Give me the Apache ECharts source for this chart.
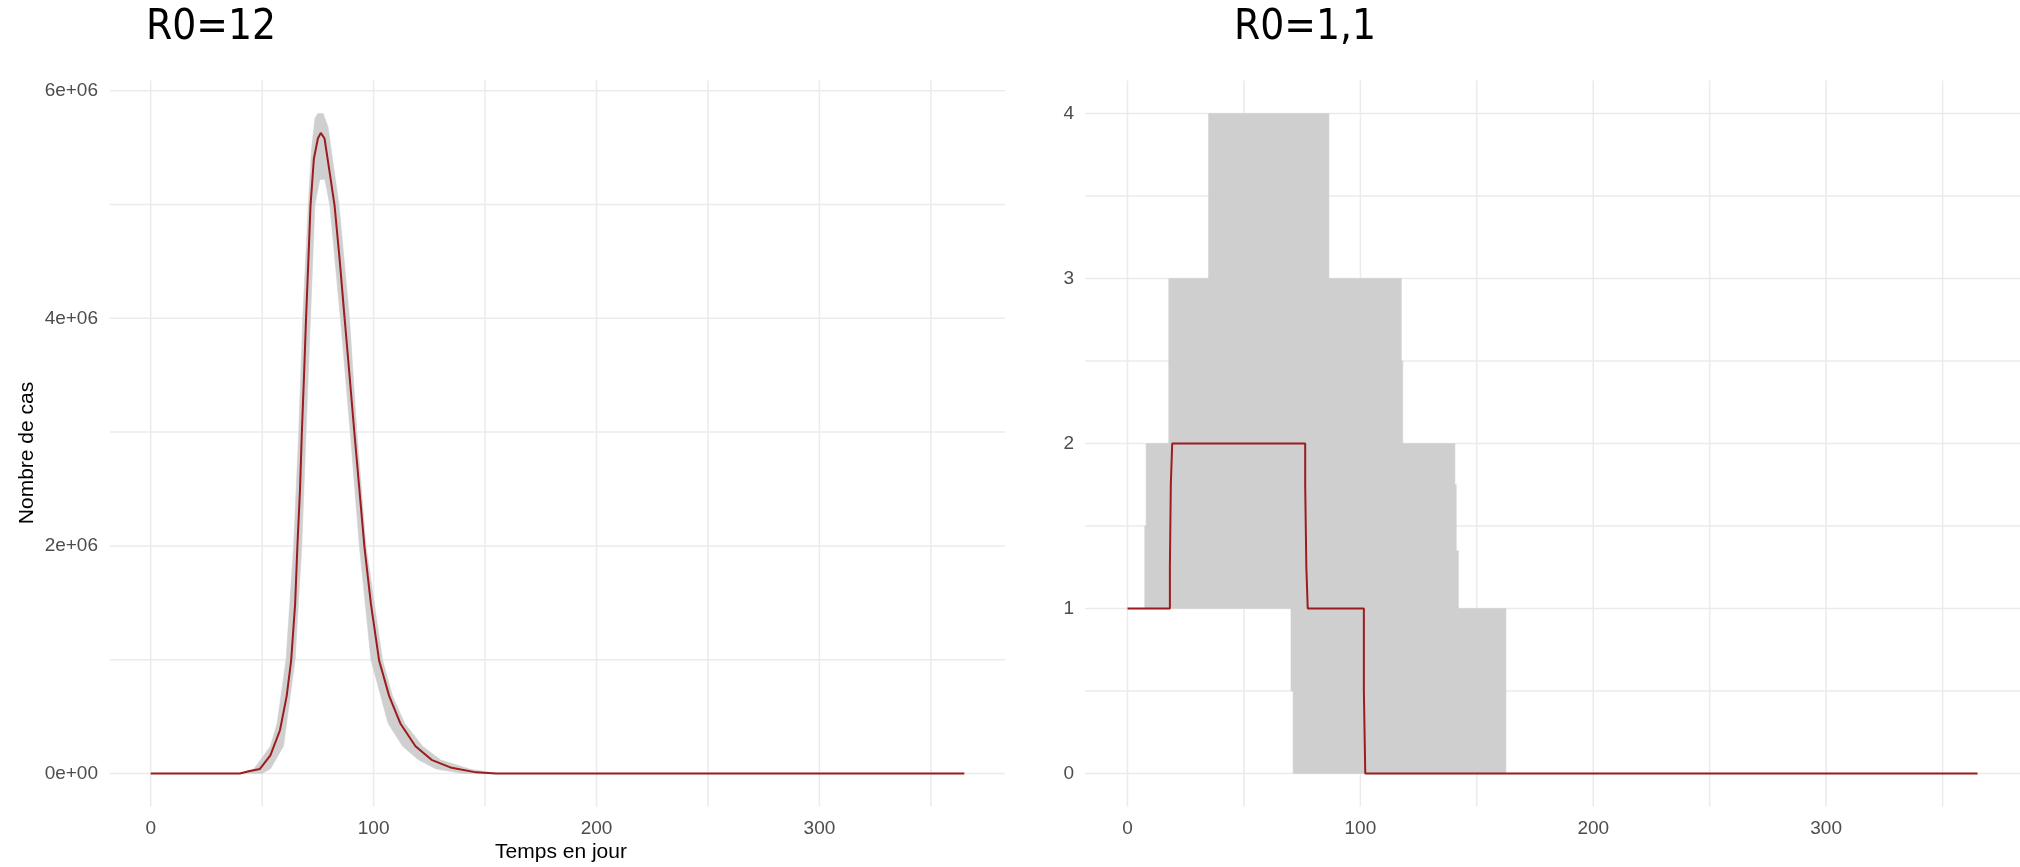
<!DOCTYPE html>
<html>
<head>
<meta charset="utf-8">
<script src="https://cdn.jsdelivr.net/npm/echarts@6/dist/echarts.min.js"></script>
<style>
html,body{margin:0;padding:0;background:#fff;}
#chart{width:2020px;height:867px;}
</style>
</head>
<body>
<div id="chart"></div>
<script>
// ---------- data ----------
const titles = ['R0=12', 'R0=1,1'];
const xTicks = [0, 100, 200, 300];
const xGrid = [0, 50, 100, 150, 200, 250, 300, 350];

const leftYTicks = [0, 2000000, 4000000, 6000000];
const leftYTickLabels = ['0e+00', '2e+06', '4e+06', '6e+06'];
const leftYGrid = [0, 1000000, 2000000, 3000000, 4000000, 5000000, 6000000];

const rightYTicks = [0, 1, 2, 3, 4];
const rightYGrid = [0, 0.5, 1, 1.5, 2, 2.5, 3, 3.5, 4];

// R0 = 12 : median curve
const r12Days   = [0, 40, 44, 49, 53.7, 58, 61, 63, 64.8, 65.8, 67, 67.8, 68.8, 69.7, 70.7, 71.7, 73.2, 75, 76.3, 78, 80.3, 82.5, 84.8, 87, 89.2, 91.4, 93.6, 95.9, 98.8, 102.5, 107, 112, 118.8, 126, 135, 146, 155, 365];
const r12Median = [0, 0, 20000, 40000, 160000, 380000, 680000, 990000, 1490000, 1990000, 2500000, 2990000, 3500000, 4000000, 4490000, 4990000, 5400000, 5580000, 5630000, 5580000, 5280000, 4990000, 4510000, 4000000, 3500000, 2990000, 2500000, 1990000, 1490000, 990000, 680000, 440000, 240000, 120000, 50000, 10000, 0, 0];
// R0 = 12 : envelope, upper edge
const r12UpperDays = [40, 46.3, 53.7, 56.7, 60.7, 64.1, 66.4, 68.2, 70.7, 72.2, 73.7, 75, 77.4, 79.6, 81, 84.5, 89.2, 92.5, 96.6, 104, 108.5, 114, 122, 130, 143, 155];
const r12Upper     = [0, 40000, 240000, 440000, 1000000, 2000000, 3000000, 4000000, 5000000, 5500000, 5760000, 5800000, 5800000, 5680000, 5480000, 5000000, 4000000, 3000000, 2000000, 1000000, 680000, 440000, 240000, 120000, 40000, 0];
// R0 = 12 : envelope, lower edge
const r12LowerDays = [40, 50, 53.7, 59.6, 64.8, 67.8, 69.7, 71.7, 73.7, 75.9, 78.1, 80.3, 85.1, 89.5, 93.6, 98.8, 106.5, 113, 120, 128, 140, 155];
const r12Lower     = [0, 0, 40000, 240000, 1000000, 2000000, 3000000, 4000000, 5000000, 5220000, 5220000, 5000000, 4000000, 3000000, 2000000, 1000000, 440000, 240000, 120000, 40000, 0, 0];

// R0 = 1,1 : median (step line)
const r11Days   = [0, 18.2, 18.2, 18.6, 18.6, 19.2, 19.2, 76.3, 76.3, 76.8, 76.8, 77.4, 77.4, 101.5, 101.5, 102.1, 102.1, 365];
const r11Median = [1, 1, 1.25, 1.25, 1.75, 1.75, 2, 2, 1.75, 1.75, 1.25, 1.25, 1, 1, 0.5, 0.5, 0, 0];
// R0 = 1,1 : envelope
const r11UpperDays = [7.4, 7.4, 8, 8, 17.7, 17.7, 34.8, 34.8, 86.5, 86.5, 117.6, 117.6, 118.2, 118.2, 140.6, 140.6, 141.2, 141.2, 142.1, 142.1, 162.5, 162.5];
const r11Upper     = [1, 1.5, 1.5, 2, 2, 3, 3, 4, 4, 3, 3, 2.5, 2.5, 2, 2, 1.75, 1.75, 1.35, 1.35, 1, 1, 0];
const r11LowerDays = [7.4, 70.2, 70.2, 71.1, 71.1, 162.5];
const r11Lower     = [1, 1, 0.5, 0.5, 0, 0];

// ---------- styling ----------
const FONT = '"Liberation Sans", Arial, sans-serif';
const GRID_COLOR = '#EBEBEB';
const BAND_COLOR = '#CFCFCF';
const LINE_COLOR = '#9E1B1B';

function zip(xs, ys) { return xs.map((x, i) => [x, ys[i]]); }

function gridLineSeries(idx, values, vertical) {
  return {
    type: 'custom', xAxisIndex: idx, yAxisIndex: idx, silent: true, z: 0,
    data: values.map(v => [v]),
    encode: vertical ? { x: 0 } : { y: 0 },
    renderItem: function (params, api) {
      const cs = params.coordSys;
      const v = api.value(0);
      if (vertical) {
        const px = api.coord([v, 0])[0];
        return { type: 'line', shape: { x1: px, y1: cs.y, x2: px, y2: cs.y + cs.height },
                 style: { stroke: GRID_COLOR, lineWidth: 1.5 } };
      } else {
        const py = api.coord([0, v])[1];
        return { type: 'line', shape: { x1: cs.x, y1: py, x2: cs.x + cs.width, y2: py },
                 style: { stroke: GRID_COLOR, lineWidth: 1.5 } };
      }
    }
  };
}

function bandSeries(idx, upX, upY, loX, loY) {
  return {
    type: 'custom', xAxisIndex: idx, yAxisIndex: idx, silent: true, z: 1,
    data: [[upX[0], upY[0]]],
    renderItem: function (params, api) {
      const pts = [];
      for (let i = 0; i < upX.length; i++) pts.push(api.coord([upX[i], upY[i]]));
      for (let i = loX.length - 1; i >= 0; i--) pts.push(api.coord([loX[i], loY[i]]));
      return { type: 'polygon', shape: { points: pts }, style: { fill: BAND_COLOR, stroke: BAND_COLOR, lineWidth: 0.5 } };
    }
  };
}

function lineSeries(idx, xs, ys) {
  return {
    type: 'line', xAxisIndex: idx, yAxisIndex: idx, data: zip(xs, ys),
    showSymbol: false, symbol: 'none', silent: true, z: 3,
    lineStyle: { color: LINE_COLOR, width: 2 }, animation: false
  };
}

const xAxisCommon = {
  type: 'value', min: -18.25, max: 383.25,
  axisLine: { show: false }, axisTick: { show: false }, splitLine: { show: false },
  axisLabel: { customValues: xTicks, fontSize: 19, color: '#4D4D4D', fontFamily: FONT, margin: 13 }
};

const chart = echarts.init(document.getElementById('chart'), null, { renderer: 'canvas' });
chart.setOption({
  animation: false,
  backgroundColor: '#ffffff',
  grid: [
    { left: 110, top: 80.5, width: 895, height: 726 },
    { left: 1085, top: 80.5, width: 941.5, height: 726 }
  ],
  xAxis: [
    Object.assign({ gridIndex: 0 }, xAxisCommon),
    Object.assign({ gridIndex: 1 }, xAxisCommon)
  ],
  yAxis: [
    { gridIndex: 0, type: 'value', min: -290000, max: 6090000,
      axisLine: { show: false }, axisTick: { show: false }, splitLine: { show: false },
      axisLabel: { customValues: leftYTicks, fontSize: 19, color: '#4D4D4D', fontFamily: FONT, margin: 12,
        formatter: v => leftYTickLabels[leftYTicks.indexOf(v)] } },
    { gridIndex: 1, type: 'value', min: -0.2, max: 4.2,
      axisLine: { show: false }, axisTick: { show: false }, splitLine: { show: false },
      axisLabel: { customValues: rightYTicks, fontSize: 19, color: '#4D4D4D', fontFamily: FONT, margin: 11,
        formatter: v => String(v) } }
  ],
  series: [
    gridLineSeries(0, xGrid, true),
    gridLineSeries(0, leftYGrid, false),
    gridLineSeries(1, xGrid, true),
    gridLineSeries(1, rightYGrid, false),
    bandSeries(0, r12UpperDays, r12Upper, r12LowerDays, r12Lower),
    bandSeries(1, r11UpperDays, r11Upper, r11LowerDays, r11Lower),
    lineSeries(0, r12Days, r12Median),
    lineSeries(1, r11Days, r11Median)
  ],
  graphic: [
    { type: 'text', x: 146, y: 28, style: { text: titles[0], fontSize: 42, fontFamily: '"DejaVu Sans Condensed", "DejaVu Sans", sans-serif', fill: '#000', align: 'left', verticalAlign: 'middle' } },
    { type: 'text', x: 1234, y: 28, style: { text: titles[1], fontSize: 42, fontFamily: '"DejaVu Sans Condensed", "DejaVu Sans", sans-serif', fill: '#000', align: 'left', verticalAlign: 'middle' } },
    { type: 'text', x: 27, y: 453, rotation: Math.PI / 2, style: { text: 'Nombre de cas', fontSize: 21, fontFamily: FONT, fill: '#000', align: 'center', verticalAlign: 'middle' } },
    { type: 'text', x: 561, y: 852, style: { text: 'Temps en jour', fontSize: 21, fontFamily: FONT, fill: '#000', align: 'center', verticalAlign: 'middle' } }
  ]
});
</script>
</body>
</html>
